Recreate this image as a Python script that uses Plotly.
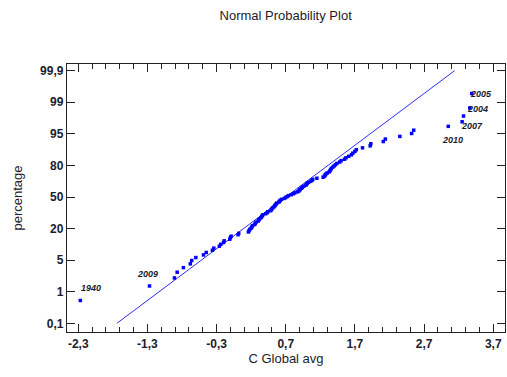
from statistics import NormalDist

import plotly.graph_objects as go

# Sorted yearly values of the global average (one value per year)
anomalies = [
    -2.27, -1.27, -0.91, -0.87, -0.78, -0.68, -0.66, -0.60, -0.49, -0.45,
    -0.36, -0.34, -0.26, -0.24, -0.20, -0.19, -0.11, -0.10, -0.09, 0.01,
    0.02, 0.16, 0.17, 0.18, 0.20, 0.21, 0.22, 0.25, 0.26, 0.27,
    0.30, 0.31, 0.32, 0.34, 0.35, 0.36, 0.37, 0.41, 0.43, 0.44,
    0.48, 0.49, 0.50, 0.51, 0.53, 0.54, 0.55, 0.56, 0.57, 0.60,
    0.61, 0.62, 0.64, 0.68, 0.70, 0.72, 0.74, 0.78, 0.81, 0.83,
    0.87, 0.89, 0.90, 0.91, 0.93, 0.94, 0.96, 0.99, 1.00, 1.01,
    1.03, 1.06, 1.08, 1.09, 1.15, 1.24, 1.26, 1.27, 1.28, 1.30,
    1.33, 1.34, 1.35, 1.36, 1.38, 1.40, 1.42, 1.44, 1.48, 1.50,
    1.55, 1.57, 1.61, 1.65, 1.67, 1.70, 1.72, 1.81, 1.92, 1.93,
    2.11, 2.14, 2.35, 2.52, 2.55, 3.05, 3.25, 3.27, 3.36, 3.39,
]

# Years labelled on the plot and their rank in the sorted values
label_years = ["1940", "2009", "2010", "2007", "2004", "2005"]
label_ranks = [1, 2, 106, 107, 109, 110]
label_shifts = [(11, 12), (-2, 12), (4, -14), (10, -4), (8, -1), (9, 0)]

# Reference normal line parameters
line_mean = 0.70
line_sd = 0.79

# Axis labels
x_ticks = [-2.3, -1.3, -0.3, 0.7, 1.7, 2.7, 3.7]
x_ticktext = ["-2,3", "-1,3", "-0,3", "0,7", "1,7", "2,7", "3,7"]
pct_labels = ["0,1", "1", "5", "20", "50", "80", "95", "99", "99,9"]

nd = NormalDist()
n = len(anomalies)
# Blom plotting positions on the normal-score scale
scores = [nd.inv_cdf((i + 1 - 0.375) / (n + 0.25)) for i in range(n)]

z_end = nd.inv_cdf(0.999)
y_tickvals = [-z_end + k * (2 * z_end) / (len(pct_labels) - 1) for k in range(len(pct_labels))]

FONT = "Liberation Sans Narrow, Arial Narrow, Arial, sans-serif"
TXT = "#1c1c2c"

fig = go.Figure()

fig.add_trace(go.Scatter(
    x=[line_mean - z_end * line_sd, line_mean + z_end * line_sd],
    y=[-z_end, z_end],
    mode="lines",
    line=dict(color="rgb(45,45,255)", width=1),
    hoverinfo="skip",
))

fig.add_trace(go.Scatter(
    x=anomalies,
    y=scores,
    mode="markers",
    marker=dict(symbol="square", size=3.5, color="rgb(0,0,255)", line=dict(width=0)),
))

for year, rank, (dx, dy) in zip(label_years, label_ranks, label_shifts):
    fig.add_annotation(
        x=anomalies[rank - 1], y=scores[rank - 1], text=year,
        showarrow=False, xshift=dx, yshift=dy,
        font=dict(family=FONT, size=9, color=TXT, style="italic", weight="bold"),
    )

axis_common = dict(
    showline=True, linecolor="#222222", linewidth=1.3, mirror="allticks",
    ticks="inside", ticklen=8, tickcolor="#222222", tickwidth=1,
    showgrid=False, zeroline=False,
    tickfont=dict(family=FONT, size=12, color=TXT, weight="bold"),
)

fig.update_xaxes(
    range=[-2.463, 3.87],
    tickvals=x_ticks, ticktext=x_ticktext,
    minor=dict(tick0=-2.3, dtick=0.2, ticks="inside", ticklen=5, tickcolor="#222222"),
    title=dict(text="C Global avg", font=dict(family=FONT, size=13, color=TXT), standoff=4),
    **axis_common,
)
fig.update_yaxes(
    range=[-3.303, 3.254],
    tickvals=y_tickvals, ticktext=pct_labels,
    title=dict(text="percentage", font=dict(family=FONT, size=13, color=TXT), standoff=14),
    **axis_common,
)

fig.update_layout(
    width=507, height=377,
    margin=dict(l=67, r=2, t=64, b=45),
    paper_bgcolor="white", plot_bgcolor="white",
    showlegend=False,
    title=dict(
        text="Normal Probability Plot",
        x=0.5634, xanchor="center", y=0.958, yanchor="middle",
        font=dict(family=FONT, size=13, color=TXT),
    ),
)

fig.write_html("out.html")
